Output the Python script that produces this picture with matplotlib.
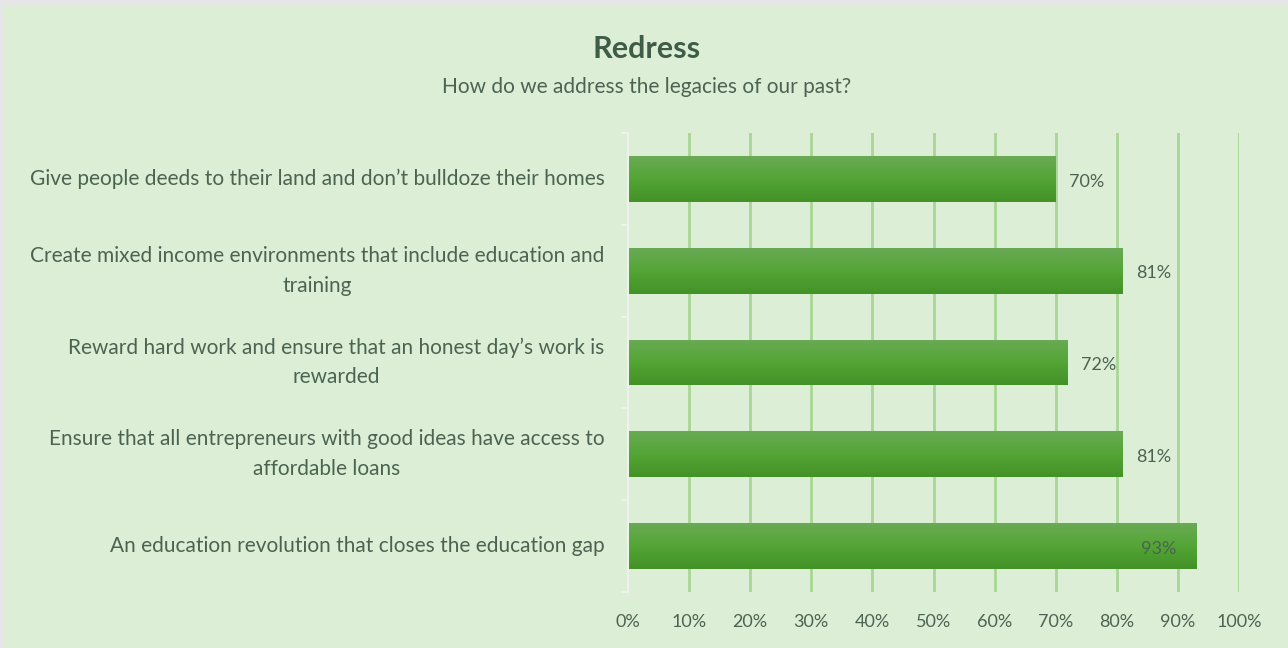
import matplotlib
matplotlib.use("Agg")
import matplotlib.pyplot as plt
import numpy as np
from matplotlib.patches import Rectangle
from matplotlib.colors import LinearSegmentedColormap

title = "Redress"
subtitle = "How do we address the legacies of our past?"
categories = [
    "Give people deeds to their land and don\u2019t bulldoze their homes",
    "Create mixed income environments that include education and\ntraining",
    "Reward hard work and ensure that an honest day\u2019s work is\nrewarded",
    "Ensure that all entrepreneurs with good ideas have access to\naffordable loans",
    "An education revolution that closes the education gap",
]
values = [70, 81, 72, 81, 93]
xticks = [0, 10, 20, 30, 40, 50, 60, 70, 80, 90, 100]
xticklabels = [f"{t}%" for t in xticks]

plt.rcParams['font.family'] = ['Lato', 'DejaVu Sans']
BG = "#dcefd6"
TXT = "#4d6352"
TITLE_C = "#3f5c48"
GRID = "#a9d596"

W, H = 1288, 648
fig = plt.figure(figsize=(W / 100, H / 100), dpi=100)
fig.patch.set_facecolor("#e6e6e6")
fig.add_artist(Rectangle((3 / W, 0), 1 - 3 / W, 1 - 6 / H, transform=fig.transFigure,
                         facecolor=BG, edgecolor="none", zorder=0))

ax_l, ax_r = 628 / W, 1239 / W
ax_t, ax_b = 1 - 133 / H, 1 - 592 / H
ax = fig.add_axes([ax_l, ax_b, ax_r - ax_l, ax_t - ax_b])
ax.set_facecolor("none")
n = len(categories)

for t in xticks[1:]:
    ax.axvline(t, color=GRID, lw=2, zorder=1)

cmap = LinearSegmentedColormap.from_list("g", ["#6aaa55", "#53a535", "#439227"])
grad = np.linspace(0, 1, 64).reshape(-1, 1)
bh = 0.5
for i, v in enumerate(values):
    rect = Rectangle((0, i - bh / 2), v, bh, facecolor="none", edgecolor="none")
    ax.add_patch(rect)
    im = ax.imshow(grad, cmap=cmap, aspect="auto", extent=(0, v, i + bh / 2, i - bh / 2),
                   zorder=2, interpolation="bilinear")
    im.set_clip_path(rect)
    lx = min(v + 5, 86.8)
    ax.text(lx, i + 0.03, f"{v}%", ha="center", va="center", fontsize=13, color=TXT, zorder=3)

ax.set_xlim(0, 100)
ax.set_ylim(n - 0.5, -0.5)

for s in ["top", "right", "bottom"]:
    ax.spines[s].set_visible(False)
ax.spines["left"].set_color("#eef2ec")
ax.spines["left"].set_linewidth(1.5)

ax.set_xticks(xticks)
ax.set_xticklabels(xticklabels, fontsize=13, color=TXT)
ax.tick_params(axis="x", length=0, pad=16)

ax.set_yticks(np.arange(-0.5, n, 1.0), minor=False)
ax.set_yticklabels([])
ax.tick_params(axis="y", length=5, color="#eef2ec", width=1.5)
ax.set_yticks(np.arange(n), minor=True)
labs = ax.set_yticklabels(categories, minor=True, fontsize=15, color=TXT,
                          multialignment="center", linespacing=1.6)
for lab in labs:
    lab.set_verticalalignment("center")
ax.tick_params(axis="y", which="minor", length=0, pad=17)

fig.text(647 / W, 1 - 49 / H, title, ha="center", va="center",
         fontsize=22, fontweight="bold", color=TITLE_C)
fig.text(647 / W, 1 - 87 / H, subtitle, ha="center", va="center", fontsize=15, color=TXT)

fig.savefig("out.png", dpi=100, facecolor=fig.get_facecolor())
